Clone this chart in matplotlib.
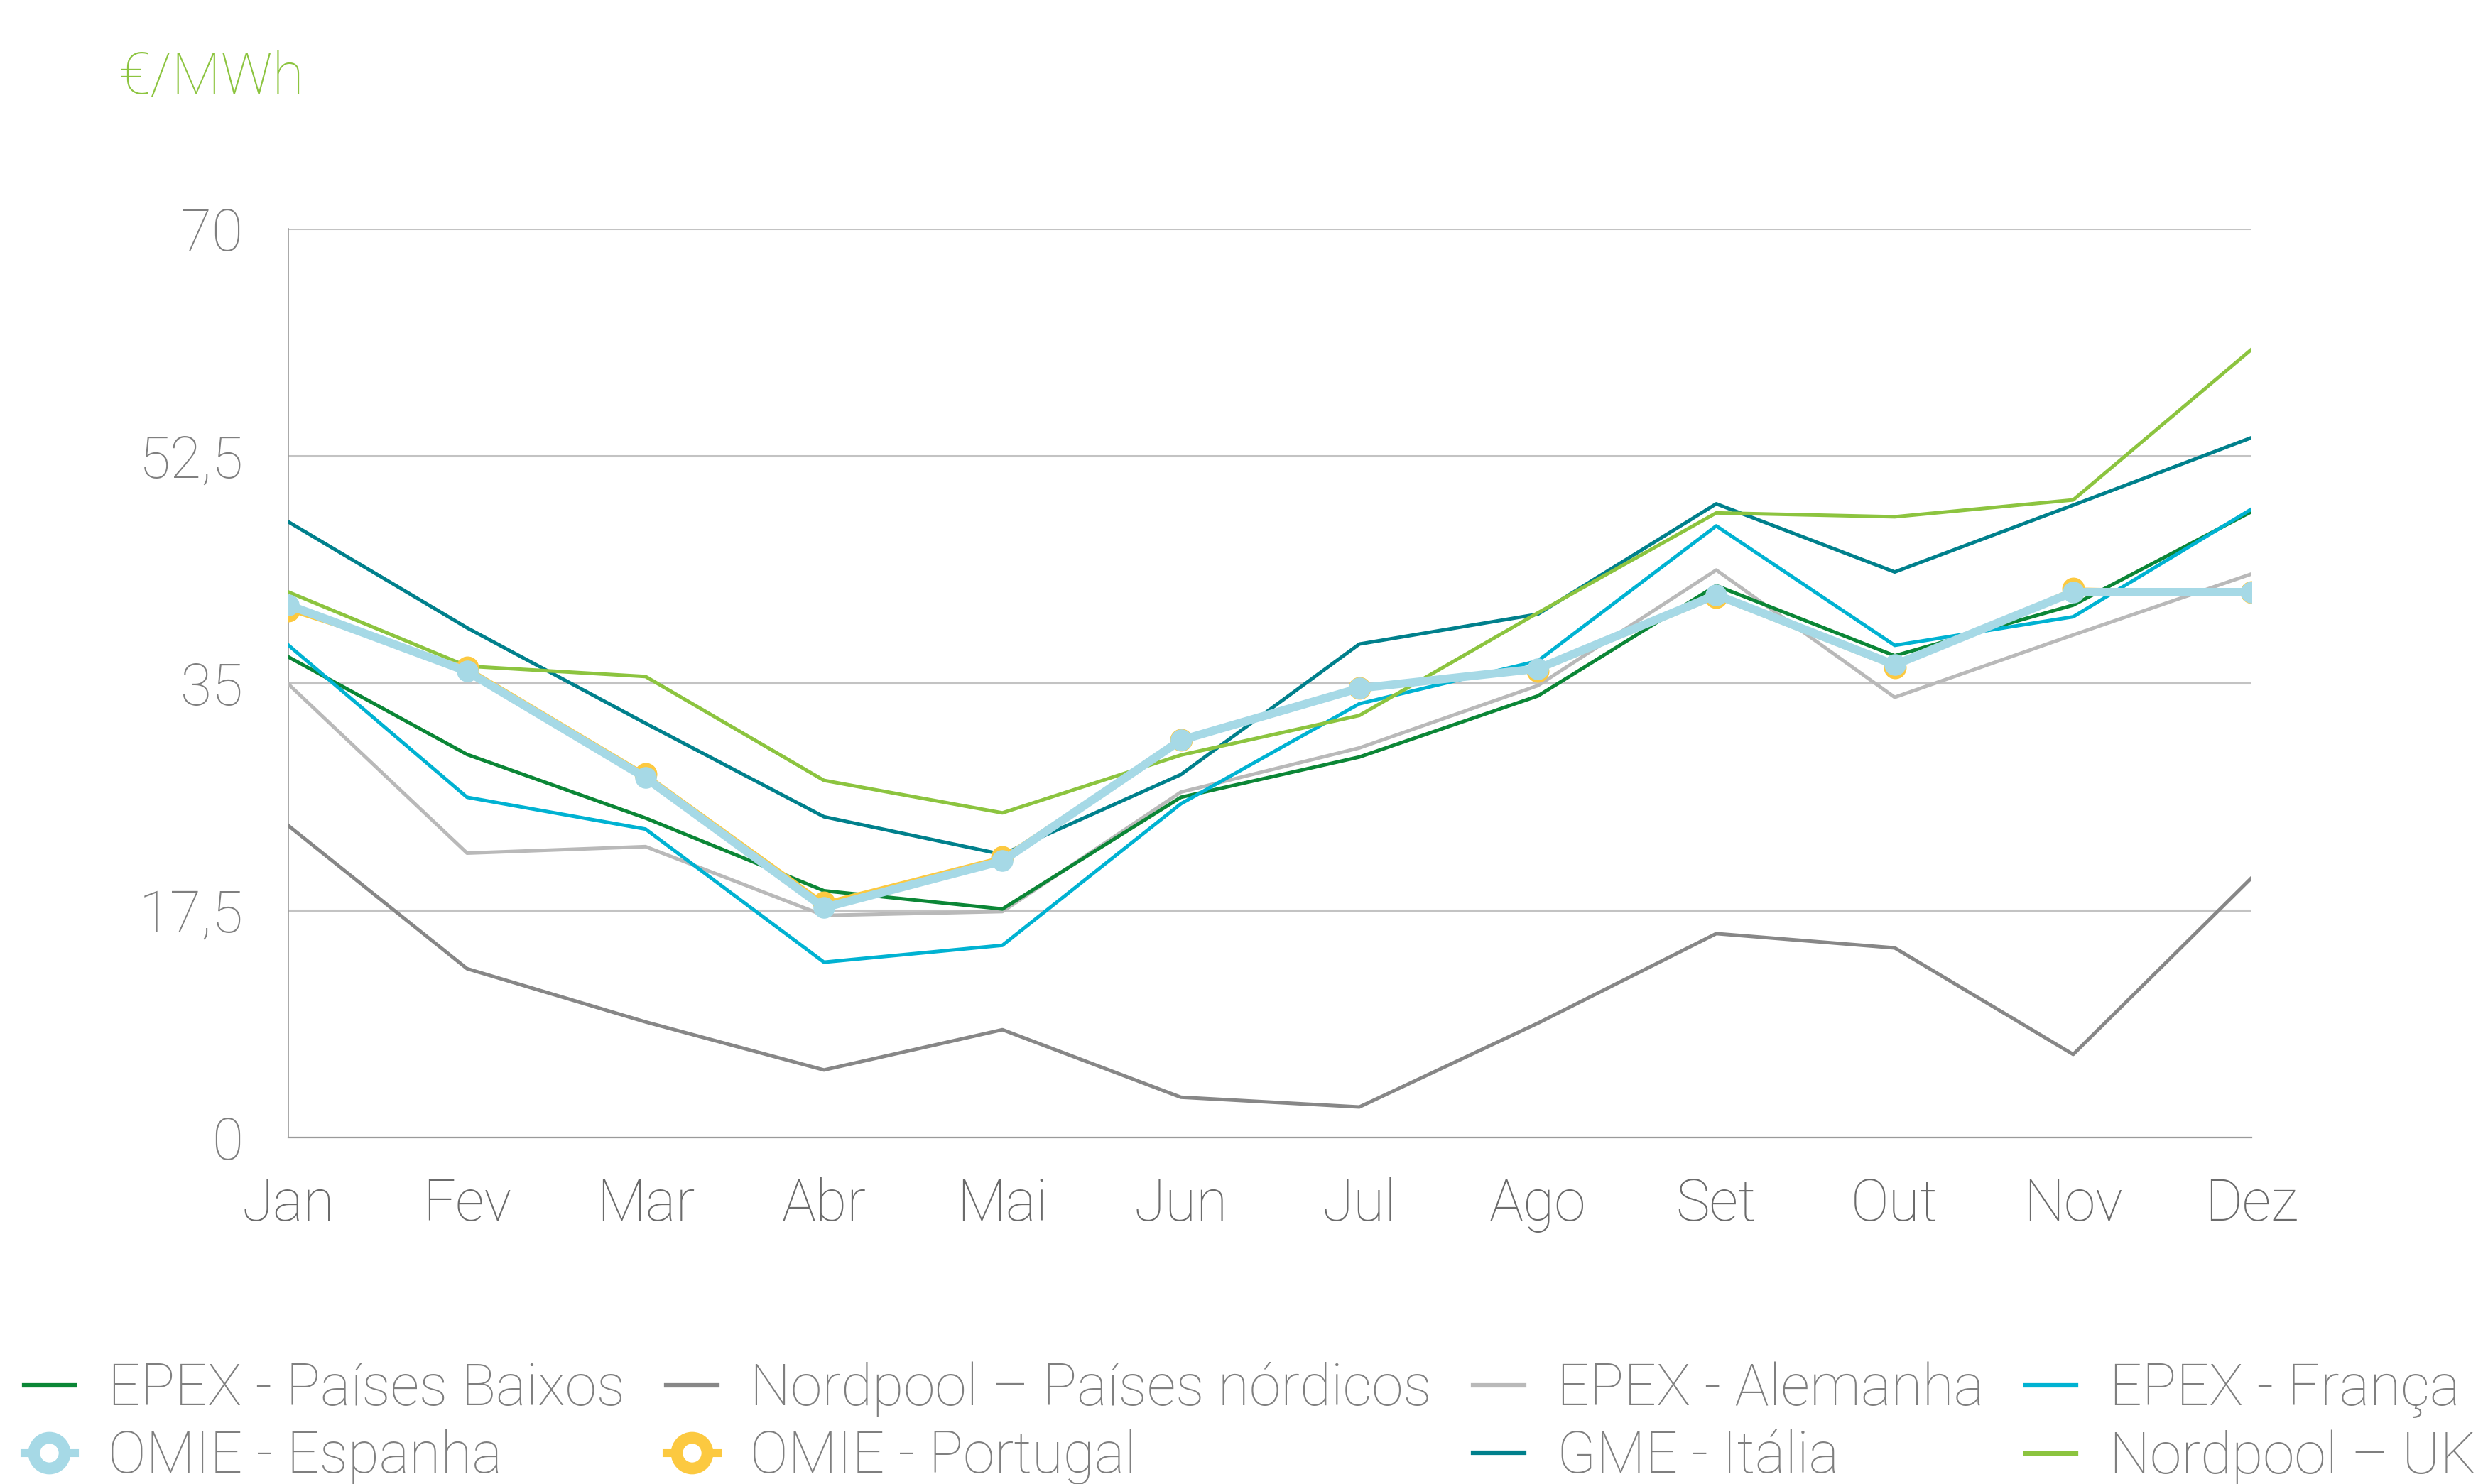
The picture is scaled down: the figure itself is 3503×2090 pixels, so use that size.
import numpy as np
import matplotlib.pyplot as plt
from matplotlib.lines import Line2D

plt.rcParams['font.family'] = ['Roboto', 'DejaVu Sans']
plt.rcParams['font.weight'] = 'light'

meses = ['Jan', 'Fev', 'Mar', 'Abr', 'Mai', 'Jun', 'Jul', 'Ago', 'Set', 'Out', 'Nov', 'Dez']
y_ticks = [0, 17.5, 35, 52.5, 70]
y_tick_labels = ['0', '17,5', '35', '52,5', '70']

epex_pb = [37.0, 29.5, 24.6, 19.0, 17.6, 26.2, 29.3, 34.0, 42.5, 37.1, 41.0, 48.2]
nord_pn = [24.0, 13.0, 8.9, 5.2, 8.3, 3.1, 2.35, 8.8, 15.7, 14.6, 6.4, 20.0]
epex_de = [34.9, 21.9, 22.4, 17.1, 17.4, 26.6, 30.0, 34.8, 43.7, 33.9, 38.7, 43.4]
epex_fr = [37.9, 26.2, 23.75, 13.5, 14.8, 25.7, 33.4, 36.7, 47.1, 37.9, 40.1, 48.4]
omie_es = [41.0, 35.9, 27.7, 17.7, 21.3, 30.6, 34.6, 36.1, 41.8, 36.4, 42.0, 42.0]
omie_pt = [40.6, 36.2, 28.0, 18.1, 21.6, 30.6, 34.6, 35.9, 41.6, 36.2, 42.25, 42.0]
gme_it = [47.4, 39.25, 31.9, 24.7, 21.8, 27.95, 38.0, 40.3, 48.8, 43.55, 48.7, 53.9]
nord_uk = [42.0, 36.3, 35.5, 27.5, 25.0, 29.45, 32.5, 40.4, 48.1, 47.8, 49.1, 60.7]

c_pb = '#0b8636'
c_pn = '#878787'
c_de = '#b9b9b9'
c_fr = '#00b2d2'
c_es = '#a6d9e6'
c_pt = '#fcc940'
c_it = '#00808c'
c_uk = '#8cc43f'
txt = '#7f7f7f'
fs = 58

fig = plt.figure(figsize=(35.03, 20.90), dpi=100)
ax = fig.add_axes([0.116, 0.2335, 0.789, 0.6125])
x = np.arange(len(meses))

lw = 3.6
ax.plot(x, nord_pn, color=c_pn, lw=lw, zorder=3)
ax.plot(x, epex_de, color=c_de, lw=lw, zorder=3)
ax.plot(x, epex_pb, color=c_pb, lw=lw, zorder=4)
ax.plot(x, epex_fr, color=c_fr, lw=lw, zorder=4)
ax.plot(x, gme_it, color=c_it, lw=lw, zorder=4)
ax.plot(x, nord_uk, color=c_uk, lw=lw, zorder=4)
ax.plot(x, omie_pt, color=c_pt, lw=3, marker='o', ms=22, mec=c_pt, mfc=c_pt, zorder=5)
ax.plot(x, omie_es, color=c_es, lw=8.5, marker='o', ms=21, mec=c_es, mfc=c_es, zorder=6)

ax.set_xlim(0, 11)
ax.set_ylim(0, 70)
ax.set_xticks(x)
ax.set_xticklabels(meses)
ax.set_yticks(y_ticks)
ax.set_yticklabels(y_tick_labels)
ax.tick_params(length=0, labelsize=fs, colors=txt)
ax.tick_params(axis='x', pad=40, labelcolor='#6b6b6b')
ax.tick_params(axis='y', pad=46)
ax.grid(axis='y', color='#c3c3c3', lw=2.2)
ax.set_axisbelow(True)
for s in ['top', 'right']:
    ax.spines[s].set_visible(False)
ax.spines['left'].set_color('#9a9a9a')
ax.spines['left'].set_linewidth(1.2)
ax.spines['bottom'].set_color('#9a9a9a')
ax.spines['bottom'].set_linewidth(1.6)

fig.text(167 / 3503, 1 - 132 / 2090, '€/MWh', color=c_uk, fontsize=fs, ha='left', va='baseline')

def h(c, circ=False):
    if circ:
        return Line2D([], [], color=c, lw=8, marker='o', ms=31, mfc='white', mec=c, mew=12)
    return Line2D([], [], color=c, lw=4.5)

handles = [h(c_pb), h(c_es, True), h(c_pn), h(c_pt, True),
           h(c_de), h(c_it), h(c_fr), h(c_uk)]
labels = ['EPEX - Países Baixos', 'OMIE - Espanha',
          'Nordpool – Países nórdicos', 'OMIE - Portugal',
          'EPEX - Alemanha', 'GME - Itália',
          'EPEX - França', 'Nordpool – UK']
leg = fig.legend(handles, labels, ncol=4, loc='lower left',
                 bbox_to_anchor=(15 / 1568, -0.001), frameon=False,
                 fontsize=fs, handlelength=0.89, handletextpad=0.58,
                 columnspacing=0.72, labelspacing=0.2, borderpad=0,
                 borderaxespad=0)
for t in leg.get_texts():
    t.set_color(txt)

plt.savefig('out.png', dpi=100)
